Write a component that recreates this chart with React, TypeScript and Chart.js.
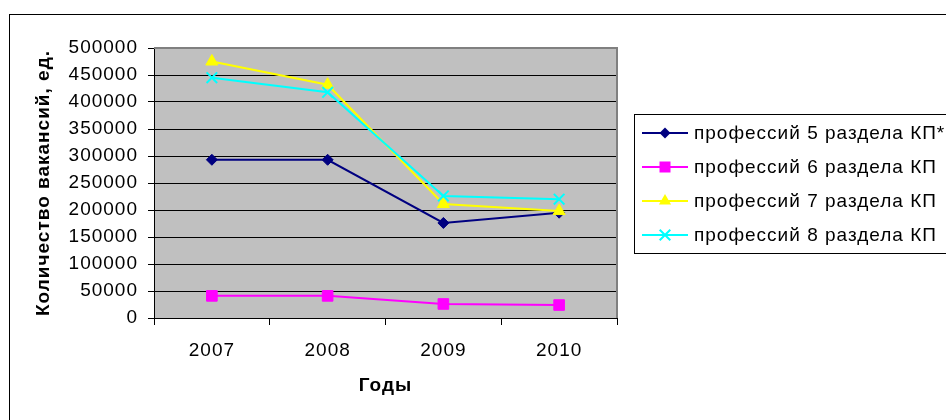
import React, { useEffect, useRef } from 'react';
import { Chart, registerables } from 'chart.js';

Chart.register(...registerables);

const years = ['2007', '2008', '2009', '2010'];
const seriesNames = [
  'профессий 5 раздела КП*',
  'профессий 6 раздела КП',
  'профессий 7 раздела КП',
  'профессий 8 раздела КП',
];
const section5 = [293000, 293000, 176000, 195000];
const section6 = [41000, 41000, 26000, 24000];
const section7 = [475000, 432000, 211000, 198000];
const section8 = [445000, 418000, 226000, 220000];
const yMin = 0;
const yMax = 500000;
const yStep = 50000;
const yTitle = 'Количество вакансий, ед.';
const xTitle = 'Годы';

const colors = ['#000080', '#FF00FF', '#FFFF00', '#00FFFF'];
const pointStyles = ['rectRot', 'rect', 'triangle', 'crossRot'];
const pointRadii = [5.5, 7.5, 7, 7.5];

const FONT = "'Liberation Sans', Arial, sans-serif";

function drawMarker(ctx: CanvasRenderingContext2D, style: string, x: number, y: number, color: string) {
  ctx.save();
  ctx.fillStyle = color;
  ctx.strokeStyle = color;
  ctx.lineWidth = 1;
  ctx.beginPath();
  if (style === 'rectRot') {
    const r = 5.5;
    ctx.moveTo(x, y - r);
    ctx.lineTo(x + r, y);
    ctx.lineTo(x, y + r);
    ctx.lineTo(x - r, y);
    ctx.closePath();
    ctx.fill();
  } else if (style === 'rect') {
    const h = 5.5;
    ctx.rect(x - h, y - h, 2 * h, 2 * h);
    ctx.fill();
  } else if (style === 'triangle') {
    const r = 7;
    ctx.moveTo(x, y - r);
    ctx.lineTo(x + r * 0.866, y + r * 0.5);
    ctx.lineTo(x - r * 0.866, y + r * 0.5);
    ctx.closePath();
    ctx.fill();
  } else {
    const h = 5.3;
    ctx.lineWidth = 2;
    ctx.moveTo(x - h, y - h);
    ctx.lineTo(x + h, y + h);
    ctx.moveTo(x + h, y - h);
    ctx.lineTo(x - h, y + h);
    ctx.stroke();
  }
  ctx.restore();
}

const framePlugin = {
  id: 'framePlugin',
  beforeDraw(chart: any) {
    const { ctx, chartArea } = chart;
    ctx.save();
    ctx.fillStyle = '#FFFFFF';
    ctx.fillRect(0, 0, chart.width, chart.height);
    ctx.fillStyle = '#C0C0C0';
    ctx.fillRect(chartArea.left, chartArea.top, chartArea.right - chartArea.left, chartArea.bottom - chartArea.top);
    ctx.strokeStyle = '#000000';
    ctx.lineWidth = 1;
    ctx.strokeRect(9.5, 14.5, 1000, 1000);
    ctx.restore();
    (ctx as any).letterSpacing = '1px';
  },
  beforeDatasetsDraw(chart: any) {
    const { ctx, chartArea } = chart;
    ctx.save();
    ctx.strokeStyle = '#808080';
    ctx.lineWidth = 2;
    ctx.beginPath();
    ctx.moveTo(chartArea.left, chartArea.top);
    ctx.lineTo(chartArea.right, chartArea.top);
    ctx.lineTo(chartArea.right, chartArea.bottom);
    ctx.stroke();
    ctx.restore();
  },
  afterDraw(chart: any) {
    const { ctx } = chart;
    ctx.save();
    (ctx as any).letterSpacing = '1px';
    ctx.strokeStyle = '#000000';
    ctx.lineWidth = 1;
    ctx.strokeRect(634.5, 114.5, 400, 139);
    ctx.font = `19px ${FONT}`;
    ctx.textBaseline = 'middle';
    ctx.textAlign = 'left';
    chart.data.datasets.forEach((ds: any, i: number) => {
      const y = 133 + i * 34;
      ctx.strokeStyle = ds.borderColor;
      ctx.lineWidth = 2;
      ctx.beginPath();
      ctx.moveTo(642, y);
      ctx.lineTo(688, y);
      ctx.stroke();
      drawMarker(ctx, ds.pointStyle, 665, y, ds.borderColor);
      ctx.fillStyle = '#000000';
      ctx.fillText(ds.label, 694, y + 1);
    });
    ctx.restore();
    (ctx as any).letterSpacing = '0px';
  },
};

export default function App() {
  const ref = useRef<HTMLCanvasElement | null>(null);

  useEffect(() => {
    if (!ref.current) return;
    const series = [section5, section6, section7, section8];
    const chart = new Chart(ref.current, {
      type: 'line',
      data: {
        labels: years,
        datasets: series.map((data, i) => ({
          label: seriesNames[i],
          data,
          borderColor: colors[i],
          backgroundColor: colors[i],
          borderWidth: 2,
          pointStyle: pointStyles[i] as any,
          pointRadius: pointRadii[i],
          pointBorderWidth: i === 3 ? 2 : 1,
          pointBackgroundColor: colors[i],
          pointBorderColor: colors[i],
          tension: 0,
          fill: false,
          order: 4 - i,
        })),
      },
      options: {
        responsive: false,
        animation: false,
        devicePixelRatio: 1,
        layout: { padding: { left: 32, top: 48, right: 329, bottom: 0 } },
        plugins: {
          legend: { display: false },
          tooltip: { enabled: false },
        },
        scales: {
          x: {
            offset: true,
            afterFit: (scale: any) => {
              scale.height = 102;
            },
            grid: {
              display: true,
              offset: true,
              drawOnChartArea: false,
              drawTicks: true,
              tickLength: 7,
              color: '#000000',
              lineWidth: 1,
            },
            border: { display: true, color: '#000000', width: 1 },
            ticks: {
              color: '#000000',
              padding: 14,
              font: { family: FONT, size: 19 },
            },
            title: {
              display: true,
              text: xTitle,
              color: '#000000',
              font: { family: FONT, size: 19, weight: 'bold' },
              padding: { top: 0, bottom: 23 },
            },
          },
          y: {
            min: yMin,
            max: yMax,
            afterFit: (scale: any) => {
              scale.width = 122;
            },
            grid: {
              display: true,
              drawTicks: true,
              tickLength: 6,
              color: '#000000',
              lineWidth: 1,
            },
            border: { display: true, color: '#000000', width: 1 },
            ticks: {
              stepSize: yStep,
              color: '#000000',
              padding: 10,
              font: { family: FONT, size: 19 },
              callback: (v: any) => String(v),
            },
            title: {
              display: true,
              text: yTitle,
              color: '#000000',
              font: { family: FONT, size: 19, weight: 'bold' },
              padding: { top: 0, bottom: 0 },
            },
          },
        },
      },
      plugins: [framePlugin],
    });
    return () => chart.destroy();
  }, []);

  return (
    <div style={{ position: 'fixed', left: 0, top: 0, width: 946, height: 420, background: '#fff' }}>
      <canvas ref={ref} width={946} height={420} style={{ display: 'block', width: 946, height: 420 }} />
    </div>
  );
}
